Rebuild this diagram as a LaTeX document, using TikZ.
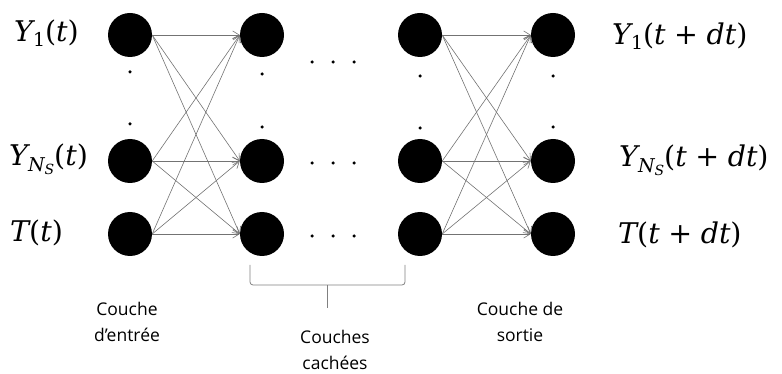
\documentclass[tikz,border=0pt]{standalone}
\usepackage{fontspec}
\setmainfont{Open Sans}
\newfontfamily\eqfont{DejaVu Serif}
\usetikzlibrary{arrows.meta}
% pieces of the formula labels
\newcommand\vi[1]{{\itshape #1}}
\newcommand\lowidx[2]{\lower#1\hbox{\fontsize{19}{19}\selectfont #2}}
\newcommand\lowlowidx[1]{\lower3pt\hbox{\fontsize{14}{14}\selectfont\itshape #1}}
\newcommand\plusop{\hspace{0.3em}+\hspace{0.3em}}
\begin{document}
\begin{tikzpicture}[x=1pt,y=-1pt,
  neuron/.style={circle,fill=black,inner sep=0pt,minimum size=44pt},
  conn/.style={draw=black!55,line width=0.6pt,-{Straight Barb[length=6.5pt,width=8pt]}},
  vdot/.style={circle,fill=black,inner sep=0pt,minimum size=3.5pt},
  lbl/.style={inner sep=0pt,font=\eqfont\fontsize{28.5}{30}\selectfont},
  layercap/.style={align=center,inner sep=0pt,font=\fontsize{17.5}{26}\selectfont}]
\useasboundingbox (0,0) rectangle (782,374);

% four columns of neurons
\foreach \c/\x in {1/130,2/262,3/420,4/553}{
  \node[neuron] (n\c a) at (\x,35) {};
  \node[neuron] (n\c b) at (\x,161) {};
  \node[neuron] (n\c c) at (\x,234) {};
}

% vertical ellipsis dots inside each column
\foreach \c/\x/\ya/\yb in {1/130/72/124,2/262/74/127,3/420/76/128,4/553/76/127}{
  \node[vdot] (d\c u) at (\x,\ya) {};
  \node[vdot] (d\c l) at (\x,\yb) {};
}

% horizontal ellipsis between hidden layers
\foreach \r/\y in {a/62,b/163,c/236}{
  \foreach \i/\x in {1/312,2/333,3/354}{
    \node[vdot] (h\r\i) at (\x,\y) {};
  }
}

% full connections input -> first hidden, last hidden -> output
\foreach \s in {a,b,c}{
  \foreach \t in {a,b,c}{
    \draw[conn] (n1\s.east) -- (n2\t.west);
    \draw[conn] (n3\s.east) -- (n4\t.west);
  }
}

% input labels
\node[lbl,anchor=west] (in1) at (14,33) {\vi{Y}\lowidx{5pt}{1}(\vi{t})};
\node[lbl,anchor=west] (in2) at (9,159) {\vi{Y}\lowidx{6pt}{\vi{N}\lowlowidx{S}}(\vi{t})};
\node[lbl,anchor=west] (in3) at (10,233) {\vi{T}(\vi{t})};

% output labels
\node[lbl,anchor=west] (out1) at (612,36) {\vi{Y}\lowidx{5pt}{1}(\vi{t}\plusop\vi{dt})};
\node[lbl,anchor=west] (out2) at (619,160) {\vi{Y}\lowidx{6pt}{\vi{N}\lowlowidx{S}}(\vi{t}\plusop\vi{dt})};
\node[lbl,anchor=west] (out3) at (618,235) {\vi{T}(\vi{t}\plusop\vi{dt})};

% bracket under the hidden layers
\coordinate (bl) at (250,265);
\coordinate (br) at (405,265);
\coordinate (bm) at (327,285);
\coordinate (bt) at (327,308);
\draw[black!50,line width=0.8pt,rounded corners=3pt]
  (bl) -- (250,285) -- (405,285) -- (br);
\draw[black!50,line width=0.8pt] (bm) -- (bt);

% layer captions
\node[layercap] (capin) at (127,322) {Couche\\d’entrée};
\node[layercap] (caphid) at (335,350) {Couches\\cachées};
\node[layercap] (capout) at (520,322) {Couche de\\sortie};
\end{tikzpicture}
\end{document}
